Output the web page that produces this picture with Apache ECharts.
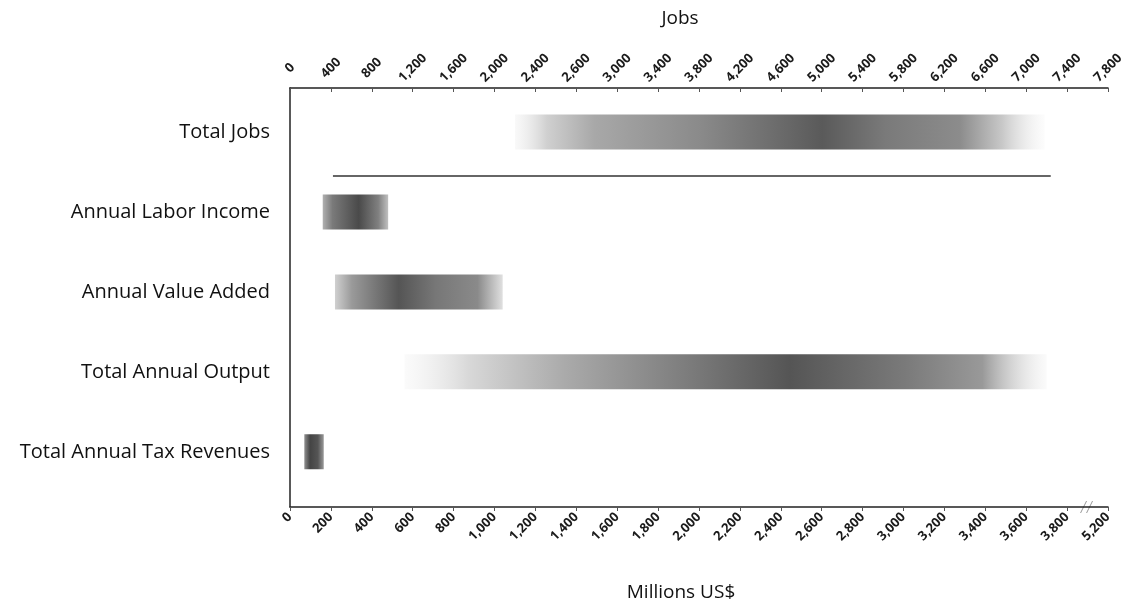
<!DOCTYPE html>
<html>
<head>
<meta charset="utf-8">
<script src="https://cdn.jsdelivr.net/npm/echarts@6/dist/echarts.min.js"></script>
<style>html,body{margin:0;padding:0;background:#fff}#c{width:1128px;height:603px}</style>
</head>
<body>
<div id="c"></div>
<script>
// ---- data ----
const categories = ['Total Jobs', 'Annual Labor Income', 'Annual Value Added', 'Total Annual Output', 'Total Annual Tax Revenues'];
// Total Jobs range (jobs, top axis)
const jobsRange = [2200, 7380];
// Monetary ranges (millions US$, bottom axis): [low, high]
const laborIncome = [160, 480];
const valueAdded = [220, 1040];
const totalOutput = [560, 3700];
const taxRevenues = [70, 165];
// divider line below Total Jobs (millions US$)
const dividerRange = [210, 3720];
// tick labels as printed
const topTickLabels = ['0','400','800','1,200','1,600','2,000','2,400','2,600','3,000','3,400','3,800','4,200','4,600','5,000','5,400','5,800','6,200','6,600','7,000','7,400','7,800'];
const bottomTickLabels = ['0','200','400','600','800','1,000','1,200','1,400','1,600','1,800','2,000','2,200','2,400','2,600','2,800','3,000','3,200','3,400','3,600','3,800','5,200'];

// ---- styles ----
const gradients = [
  [[0,'rgba(235,235,235,0.3)'],[0.06,'#d0d0d0'],[0.15,'#a8a8a8'],[0.35,'#8a8a8a'],[0.58,'#5a5a5a'],[0.7,'#7a7a7a'],[0.84,'#8c8c8c'],[0.92,'#c8c8c8'],[1,'rgba(245,245,245,0.3)']],
  [[0,'#b0b0b0'],[0.15,'#7a7a7a'],[0.55,'#4a4a4a'],[0.85,'#808080'],[1,'#c0c0c0']],
  [[0,'#d0d0d0'],[0.1,'#9a9a9a'],[0.38,'#555555'],[0.6,'#777777'],[0.85,'#8a8a8a'],[1,'#e0e0e0']],
  [[0,'rgba(240,240,240,0.3)'],[0.1,'#d8d8d8'],[0.25,'#aaaaaa'],[0.45,'#7a7a7a'],[0.6,'#555555'],[0.78,'#7a7a7a'],[0.9,'#999999'],[1,'rgba(240,240,240,0.3)']],
  [[0,'#909090'],[0.3,'#444444'],[0.7,'#555555'],[1,'#9a9a9a']]
];

const chart = echarts.init(document.getElementById('c'), null, {renderer:'canvas'});
const labelFont = {fontFamily:'Open Sans', fontSize:13, color:'#1a1a1a', fontWeight:'bold'};

function barRender(params, api){
  const row = api.value(2);
  const s = api.coord([api.value(0), row]);
  const e = api.coord([api.value(1), row]);
  const h = 35;
  return {
    type:'rect',
    shape:{x:s[0], y:s[1]-h/2, width:e[0]-s[0], height:h},
    style:{fill:new echarts.graphic.LinearGradient(0,0,1,0, gradients[row].map(g=>({offset:g[0], color:g[1]})))}
  };
}

const moneyData = [laborIncome, valueAdded, totalOutput, taxRevenues].map((r,i)=>[r[0], r[1], i+1]);

chart.setOption({
  animation:false,
  backgroundColor:'#fff',
  grid:{left:290, right:20, top:88, bottom:96, containLabel:false, outerBoundsMode:'none'},
  xAxis:[
    {type:'value', position:'bottom', min:0, max:4000, interval:200,
     name:'Millions US$', nameLocation:'middle', nameGap:76,
     nameTextStyle:{fontFamily:'Open Sans', fontSize:19, color:'#111', padding:[0,36,0,0]},
     axisLine:{show:true, onZero:false, lineStyle:{color:'#222', width:1.5}},
     axisTick:{show:true, length:4, lineStyle:{color:'#555'}},
     splitLine:{show:false},
     axisLabel:Object.assign({rotate:45, margin:8, formatter:v=>bottomTickLabels[Math.round(v/200)]}, labelFont)},
    {type:'value', position:'top', min:0, max:8000, interval:400,
     name:'Jobs', nameLocation:'middle', nameGap:60,
     nameTextStyle:{fontFamily:'Open Sans', fontSize:19, color:'#111', padding:[0,38,0,0]},
     axisLine:{show:true, onZero:false, lineStyle:{color:'#222', width:1.5}},
     axisTick:{show:true, length:4, inside:true, lineStyle:{color:'#555'}},
     splitLine:{show:false},
     axisLabel:Object.assign({rotate:-45, margin:20, align:'center', verticalAlign:'middle',
       formatter:v=>topTickLabels[Math.round(v/400)]}, labelFont)}
  ],
  yAxis:[{type:'value', inverse:true, min:-0.55, max:4.69,
     axisLine:{show:true, onZero:false, lineStyle:{color:'#222', width:1.5}},
     axisTick:{show:false}, splitLine:{show:false},
     axisLabel:{customValues:[0,1,2,3,4], formatter:v=>categories[Math.round(v)], margin:20,
       fontFamily:'Open Sans', fontSize:20, color:'#111'}}],
  series:[
    {type:'custom', xAxisIndex:1, yAxisIndex:0, renderItem:barRender, encode:{x:[0,1], y:2},
     data:[[jobsRange[0], jobsRange[1], 0]]},
    {type:'custom', xAxisIndex:0, yAxisIndex:0, renderItem:barRender, encode:{x:[0,1], y:2},
     data:moneyData},
    {type:'line', xAxisIndex:0, yAxisIndex:0, symbol:'none', silent:true,
     lineStyle:{color:'#333', width:1.5},
     data:[[dividerRange[0],0.55],[dividerRange[1],0.55]]}
  ]
});

// axis break mark on bottom axis between 3,800 and 5,200
const bx = chart.convertToPixel({xAxisIndex:0}, 3900);
const by = chart.convertToPixel({yAxisIndex:0}, 4.69);
chart.setOption({graphic:[
  {type:'rect', shape:{x:bx-5, y:by-3, width:10, height:6}, style:{fill:'#fff'}},
  {type:'line', shape:{x1:bx-7, y1:by+6, x2:bx-1, y2:by-6}, style:{stroke:'#999', lineWidth:1}},
  {type:'line', shape:{x1:bx-1, y1:by+6, x2:bx+5, y2:by-6}, style:{stroke:'#999', lineWidth:1}}
]});
</script>
</body>
</html>
